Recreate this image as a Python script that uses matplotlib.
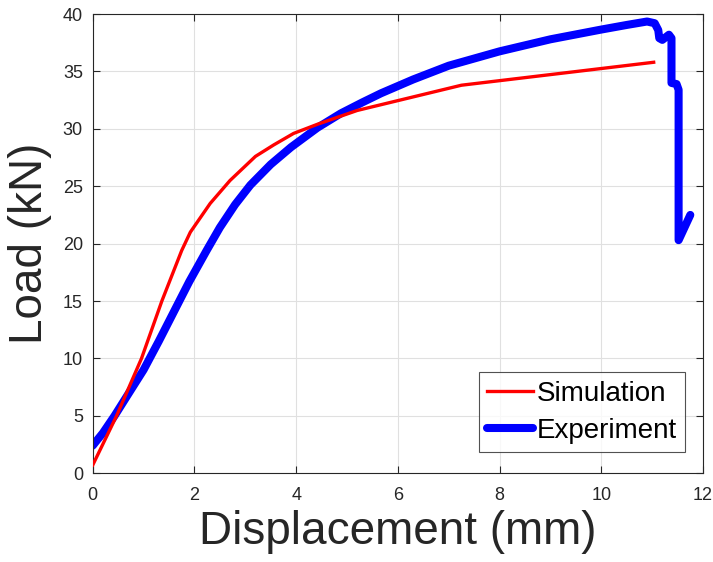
import matplotlib
matplotlib.use("Agg")
import matplotlib.pyplot as plt

plt.rcParams['font.family'] = ['Liberation Sans', 'DejaVu Sans']

# Simulation load-displacement curve
sim_disp = [0.0, 0.47, 0.96, 1.36, 1.75, 1.92, 2.31, 2.7, 3.2, 3.56, 3.95, 4.42, 5.2, 7.25, 11.03]
sim_load = [0.7, 5.0, 10.0, 15.0, 19.4, 21.0, 23.5, 25.5, 27.6, 28.6, 29.6, 30.4, 31.6, 33.8, 35.8]

# Experimental load-displacement curve
exp_disp = [0.0, 0.2, 0.43, 0.7, 1.0, 1.3, 1.6, 1.9, 2.24, 2.5, 2.8, 3.1, 3.5, 3.9,
            4.42, 4.88, 5.3, 5.67, 6.3, 7.0, 8.0, 9.0, 10.0, 10.5, 10.9, 11.05, 11.12,
            11.14, 11.2, 11.33, 11.38, 11.38, 11.48, 11.52, 11.52, 11.75]
exp_load = [2.4, 3.5, 5.0, 6.9, 9.0, 11.5, 14.1, 16.7, 19.4, 21.4, 23.4, 25.1, 26.9, 28.4,
            30.1, 31.35, 32.3, 33.1, 34.3, 35.5, 36.75, 37.8, 38.65, 39.05, 39.35, 39.2, 38.6,
            37.9, 37.75, 38.2, 37.9, 34.0, 33.9, 33.4, 20.3, 22.5]

xticks = list(range(0, 13, 2))
yticks = list(range(0, 41, 5))

fig = plt.figure(figsize=(7.13, 5.62), dpi=100)
ax = fig.add_axes([0.130, 0.158, 0.856, 0.817])

ax.plot(sim_disp, sim_load, color='#ff0000', lw=2.4, label='Simulation', zorder=3)
ax.plot(exp_disp, exp_load, color='#0000ff', lw=5.8, label='Experiment', zorder=2,
        solid_joinstyle='round', solid_capstyle='round')

ax.set_xlim(0, 12)
ax.set_ylim(0, 40)
ax.set_xticks(xticks)
ax.set_yticks(yticks)
ax.grid(True, color='#e0e0e0', lw=0.8)
ax.set_axisbelow(True)

axis_col = '#262626'
for s in ax.spines.values():
    s.set_color(axis_col)
    s.set_linewidth(0.8)
ax.tick_params(direction='in', length=5, width=0.8, colors=axis_col,
               labelsize=13, top=True, right=True)
ax.tick_params(axis='x', pad=10)
ax.tick_params(axis='y', pad=7)

ax.set_xlabel('Displacement (mm)', fontsize=33, color=axis_col, labelpad=4)
ax.set_ylabel('Load (kN)', fontsize=33, color=axis_col, labelpad=8)

leg = ax.legend(loc='lower right', bbox_to_anchor=(0.9705, 0.046), fontsize=20,
                frameon=True, fancybox=False, borderaxespad=0.0,
                handlelength=1.65, handletextpad=0.12, borderpad=0.3,
                labelspacing=0.4)
leg.get_frame().set_edgecolor(axis_col)
leg.get_frame().set_linewidth(0.8)

fig.savefig('out.png', dpi=100)
